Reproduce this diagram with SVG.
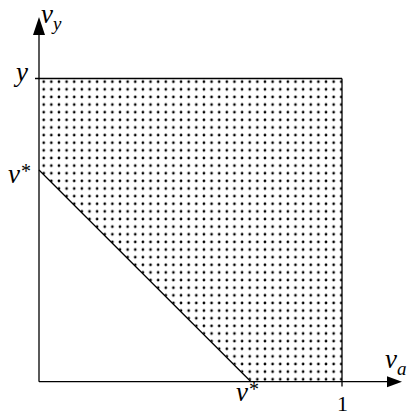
<svg xmlns="http://www.w3.org/2000/svg" width="411" height="416" viewBox="0 0 411 416">
<style>
.ln{stroke:#000;stroke-width:1.3;fill:none}
.lbl{font-family:"Liberation Serif","DejaVu Serif",serif;font-style:italic;font-size:27px;fill:#000}
.sub{font-size:19px}
.star{font-size:20px;font-style:normal}
.num{font-family:"Liberation Serif","DejaVu Serif",serif;font-size:22px;fill:#000}
</style>
<defs>
<pattern id="dots" patternUnits="userSpaceOnUse" x="39.9" y="77.9" width="7.63" height="7.63">
<circle cx="3.8" cy="3.8" r="1.35" fill="#000"/>
</pattern>
<clipPath id="region">
<polygon points="39,78.5 342,78.5 342,381 251,381 39,170"/>
</clipPath>
</defs>
<rect width="411" height="416" fill="#fff"/>
<g id="region-fill">
<rect x="39" y="78" width="303" height="304" fill="url(#dots)" clip-path="url(#region)"/>
</g>
<g id="connectors">
<line class="ln" x1="39" y1="381.7" x2="39" y2="34"/>
<polygon points="39,17 33,35 45,35" fill="#000"/>
<line class="ln" x1="39" y1="381.7" x2="388" y2="381.7"/>
<polygon points="402,381.7 387,376.2 387,387.2" fill="#000"/>
<line class="ln" x1="35" y1="78.5" x2="342" y2="78.5"/>
<line class="ln" x1="342" y1="78.5" x2="342" y2="386.5" stroke="#222"/>
<line class="ln" x1="39" y1="170" x2="251" y2="381.7"/>
</g>
<g id="label-vy">
<text class="lbl" x="41" y="23" font-size="26">v<tspan class="sub" dy="7">y</tspan></text>
</g>
<g id="label-va">
<text class="lbl" x="385" y="368">v<tspan class="sub" dy="7">a</tspan></text>
</g>
<g id="label-y">
<text class="lbl" x="16" y="81">y</text>
</g>
<g id="label-vstar-y">
<text class="lbl" x="8" y="183">v<tspan class="star" dx="1" dy="-5">*</tspan></text>
</g>
<g id="label-vstar-x">
<text class="lbl" x="236" y="401">v<tspan class="star" dx="1" dy="-5">*</tspan></text>
</g>
<g id="label-1">
<text class="num" x="337" y="411">1</text>
</g>
</svg>
